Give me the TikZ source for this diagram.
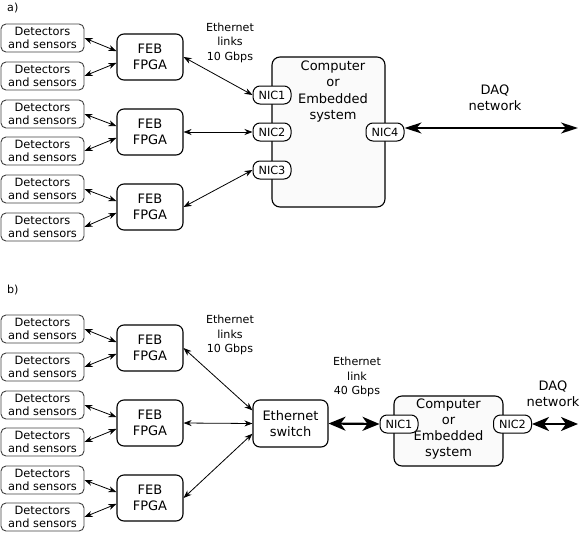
\documentclass[tikz,border=0pt]{standalone}
\usepackage{fontspec}
\setmainfont{DejaVu Sans}
\usetikzlibrary{arrows.meta, calc, positioning}

\tikzset{
    det/.style={draw=black!75, line width=0.9pt, rounded corners=5pt, minimum width=83pt, minimum height=28pt, inner sep=0pt, align=center, font=\fontsize{11.4}{13.5}\selectfont},
    feb/.style={draw, line width=1.1pt, rounded corners=7pt, minimum width=66pt, minimum height=46pt, inner sep=0pt, align=center, font=\fontsize{13}{16}\selectfont},
    comp/.style={draw, line width=1.1pt, rounded corners=8pt, fill=black!2, inner sep=0pt},
    nic/.style={draw, line width=1pt, rounded corners=7pt, fill=white, minimum width=38pt, minimum height=18pt, inner sep=0pt, font=\fontsize{11.3}{13}\selectfont},
    txt/.style={align=center, inner sep=0pt, font=\fontsize{13}{16.3}\selectfont},
    lbl/.style={align=center, inner sep=0pt, font=\fontsize{11.1}{14.5}\selectfont},
    link/.style={<->, >={Stealth[length=8pt, width=6pt, inset=2.5pt]}, line width=0.8pt},
    daqlink/.style={<->, >={Stealth[length=17pt, width=11pt, inset=5pt]}, line width=1.6pt},
    biglink/.style={<->, >={Stealth[length=17pt, width=14pt, inset=5pt]}, line width=2.2pt}
}

\begin{document}
\begin{tikzpicture}[x=1pt, y=-1pt]
    \useasboundingbox (0,0) rectangle (581,533);

    % a) 每个网卡一条链路
    \begin{scope}
        \node[lbl, anchor=west] (taga) at (7,8) {a)};
        \foreach \i/\y in {1/38, 2/76, 3/114, 4/151, 5/189, 6/227}
            \node[det] (da\i) at (42.5,\y) {Detectors\\and sensors};
        \node[feb] (fa1) at (150,57) {FEB\\FPGA};
        \node[feb] (fa2) at (150,132) {FEB\\FPGA};
        \node[feb] (fa3) at (150,207) {FEB\\FPGA};
        \foreach \f/\a/\b in {1/1/2, 2/3/4, 3/5/6} {
            \draw[link] (da\a.east) -- (fa\f.170);
            \draw[link] (da\b.east) -- (fa\f.190);
        }

        % 计算机
        \node[comp, minimum width=113pt, minimum height=150pt] (compa) at (328.5,132) {};
        \node[txt] (ctxta) at (333,91.5) {Computer\\or\\Embedded\\system};
        \node[nic] (nica1) at (272,95) {NIC1};
        \node[nic] (nica2) at (272,132) {NIC2};
        \node[nic] (nica3) at (272,170) {NIC3};
        \node[nic] (nica4) at (385,132) {NIC4};

        \node[lbl] (etha) at (230,42.5) {Ethernet\\links\\10 Gbps};
        \draw[link] (fa1.east) -- (nica1.west);
        \draw[link] (fa2.east) -- (nica2.west);
        \draw[link] (fa3.east) -- (nica3.west);

        % DAQ 网络
        \node[txt] (daqtxta) at (495,97.5) {DAQ\\network};
        \coordinate (daqa) at (578,128);
        \draw[daqlink] ([yshift=4pt]nica4.east) -- (daqa);
    \end{scope}

    % b) 经过以太网交换机
    \begin{scope}
        \node[lbl, anchor=west] (tagb) at (7,290) {b)};
        \foreach \i/\y in {1/329, 2/367, 3/405, 4/442, 5/480, 6/517}
            \node[det] (db\i) at (42.5,\y) {Detectors\\and sensors};
        \node[feb] (fb1) at (150,348) {FEB\\FPGA};
        \node[feb] (fb2) at (150,423) {FEB\\FPGA};
        \node[feb] (fb3) at (150,498) {FEB\\FPGA};
        \foreach \f/\a/\b in {1/1/2, 2/3/4, 3/5/6} {
            \draw[link] (db\a.east) -- (fb\f.170);
            \draw[link] (db\b.east) -- (fb\f.190);
        }

        % 交换机
        \node[feb, minimum width=75pt, minimum height=47pt] (sw) at (290.5,423.5) {Ethernet\\switch};
        \node[lbl] (ethb) at (230,335) {Ethernet\\links\\10 Gbps};
        \draw[link] (fb1.east) -- (sw.161);
        \draw[link] (fb2.east) -- (sw.west);
        \draw[link] (fb3.east) -- (sw.195);

        % 计算机
        \node[comp, minimum width=109pt, minimum height=70pt] (compb) at (448.5,431) {};
        \node[txt] (ctxtb) at (448.5,429) {Computer\\or\\Embedded\\system};
        \node[nic] (nicb1) at (399,424) {NIC1};
        \node[nic] (nicb2) at (512.5,424) {NIC2};

        \node[lbl] (ethc) at (357,377) {Ethernet\\link\\40 Gbps};
        \draw[biglink] (sw.east) -- (nicb1.west);

        % DAQ 网络
        \node[txt] (daqtxtb) at (553,394) {DAQ\\network};
        \coordinate (daqb) at (578,424);
        \draw[biglink] (nicb2.east) -- (daqb);
    \end{scope}
\end{tikzpicture}
\end{document}
